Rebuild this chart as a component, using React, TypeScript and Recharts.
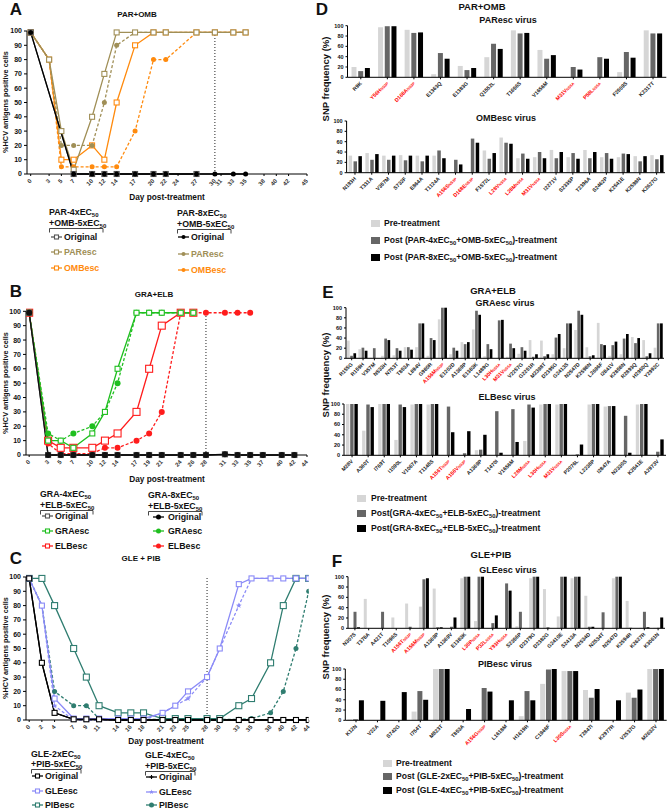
import React from "react";
import { LineChart, Line, XAxis, YAxis, ReferenceLine, BarChart, Bar } from "recharts";

const FONT = "'Liberation Sans', Arial, Helvetica, sans-serif";
const OLIVE = "#a08f57";
const ORANGE = "#ff8a0d";
const GREEN = "#1fbf1f";
const RED = "#ff1c1c";
const LAV = "#8b8bf7";
const TEAL = "#2f7d70";
const GREY = "#555555";
const PRE = "#d6d6d6";
const P4 = "#666666";
const P8 = "#000000";

// ---- A: PAR+OMB time course ----
const daysA = [0, 3, 5, 7, 10, 12, 14, 17, 20, 22, 27, 30, 33, 35];
const ticksA = [0, 3, 5, 7, 10, 12, 14, 17, 20, 22, 24, 27, 30, 31, 33, 35, 38, 40, 42, 45];
const aOrig4 = [99, null, null, 0, 0, 0, 0, 0, 0, 0, 0, null, null, null];
const aOrig8 = [99, null, null, 0, 0, 0, 0, 0, 0, 0, 0, 0, 0, 0];
const aPar4 = [99, 80, 30, 3, 40, 70, 99, 99, 99, 99, 99, 99, 99, 99];
const aPar8 = [99, 80, 20, 20, 20, 50, 90, 99, 99, 99, 99, 99, 99, 99];
const aOmb4 = [99, 80, 10, 10, 20, 10, 50, 90, 99, 99, 99, 99, 99, 99];
const aOmb8 = [99, 80, 5, 5, 5, 5, 5, 30, 80, 80, 99, 99, 99, 99];

// ---- B: GRA+ELB time course ----
const daysB = [0, 3, 5, 7, 10, 12, 14, 17, 19, 21, 24, 26, 28, 31, 33, 35, 37, 40, 42];
const ticksB = [0, 3, 5, 7, 10, 12, 14, 17, 19, 21, 24, 26, 28, 31, 33, 35, 37, 40, 42, 44];
const bOrig4 = [99, 0, 0, 0, 0, 0, 0, 0, 0, 0, 0, 0, 0, 0.5, 0, 0, 0, 0, 0];
const bOrig8 = [99, 0, 0, 0, 0, 0, 0, 0, 0, 0, 0, 0, 0, 0.5, 0, 0, 0, 0, 0];
const bGra4 = [99, 10, 10, 5, 15, 30, 60, 99, 99, 99, 99, 99, null, null, null, null, null, null, null];
const bGra8 = [99, 15, 10, 15, 20, 30, 50, 99, 99, 99, 99, 99, null, null, null, null, null, null, null];
const bElb4 = [99, 10, 5, 5, 5, 10, 15, 30, 60, 90, 99, 99, null, null, null, null, null, null, null];
const bElb8 = [99, 8, 1, 1, 1, 5, 5, 10, 15, 30, 99, 99, 99, 99, 99, 99, null, null, null];

// ---- C: GLE+PIB time course ----
const daysC = [0, 2, 4, 7, 9, 11, 14, 16, 18, 21, 23, 25, 28, 30, 33, 35, 38, 40, 42, 44];
const cOrig2 = [99, 40, 5, 0.5, 0.5, 0.5, 0, 0, 0, 0, 0, 0, 0, 0, 0, 0, 0, 0, 0, 0];
const cOrig4 = [99, 40, 5, 0.5, 0.5, 0.5, 0, 0, 0, 0, 0, 0, 0, 0, 0, 0, 0, 0, 0, 0];
const cGle2 = [99, 80, 15, 1, 1, 1, 1, 1, 1, 5, 10, 20, 30, 50, 95, 99, 99, 99, 99, 99];
const cGle4 = [99, 80, 10, 0, 0, 0, 0, 0, 0, 5, 10, 15, 30, 50, 80, 99, 99, 99, 99, 99];
const cPib2 = [99, 99, 80, 50, 30, 10, 5, 5, 5, 1, 1, 1, 1, 1, 10, 15, 40, 80, 99, 99];
const cPib4 = [99, 80, 20, 10, 10, 1, 0.5, 0.5, 0.5, 0.5, 0.5, 0.5, 0.5, 0.5, 0.5, 1, 5, 20, 50, 90];

// ---- D: PAR+OMB SNPs ----
const dParCats = ["R9K", "Y56H_NS3P", "D168A_NS3P", "E1363Q", "E1383G", "Q1552L", "T1656S", "V1656M", "M31V_NS5A", "P58L_NS5A", "F2509S", "K2317T"];
const dParPre = [20, 97, 92, 6, 22, 39, 91, 53, 0, 0, 10, 91];
const dPar4 = [12, 99, 86, 47, 14, 65, 85, 36, 20, 39, 49, 85];
const dPar8 = [18, 99, 87, 36, 18, 55, 86, 43, 15, 36, 38, 85];
const dOmbCats = ["N193H", "T331A", "V357M", "S732F", "E864A", "T1124A", "A156S_NS3P", "D168E_NS3P", "F1572L", "L28V_NS5A", "L28M_NS5A", "M31V_NS5A", "I2271V", "S2335P", "T2396A", "S2462P", "K2541E", "K2598N", "K2627G"];
const dOmbPre = [33, 38, 33, 34, 33, 33, 0, 0, 43, 68, 28, 30, 44, 30, 44, 30, 30, 32, 34];
const dOmb4 = [22, 25, 25, 24, 22, 43, 25, 66, 27, 58, 37, 40, 28, 38, 28, 38, 37, 22, 26];
const dOmb8 = [32, 36, 33, 33, 33, 28, 16, 58, 38, 56, 27, 28, 40, 27, 40, 27, 36, 32, 34];

// ---- E: GRA+ELB SNPs ----
const eGraCats = ["R155G", "R159H", "V357M", "N533H", "N753T", "T853A", "L894V", "G980R", "A156M_NS3P", "E1202D", "A1369P", "E1383K", "L1489G", "L30H_NS5A", "M31V_NS5A", "V2257G", "G2251R", "M2398T", "D2395G", "G2413S", "N2547D", "K2598N", "L2696F", "I2841V", "K2858N", "R2893Q", "H2950Q", "Y2992C"];
const eGraPre = [35, 18, 1, 5, 6, 22, 22, 5, 77, 8, 32, 57, 4, 0, 3, 9, 36, 35, 8, 20, 56, 22, 70, 5, 8, 42, 36, 21];
const eGra4 = [5, 21, 20, 39, 20, 22, 69, 40, 100, 21, 28, 94, 28, 75, 29, 22, 3, 4, 41, 69, 94, 4, 28, 26, 39, 30, 4, 69];
const eGra8 = [10, 15, 0, 36, 15, 17, 69, 36, 100, 15, 32, 86, 18, 76, 20, 15, 8, 8, 48, 69, 86, 6, 26, 33, 48, 40, 10, 69];
const eElbCats = ["M28V", "A360T", "I769T", "I1090L", "V1067A", "T1148S", "A156T_NS3P", "A156V_NS3P", "A1369P", "T1470I", "V1656M", "L28M_NS5A", "L30H_NS5A", "M31V_NS5A", "P2076L", "L2238P", "I2847A", "N2330S", "K2541E", "A2973V"];
const eElbPre = [100, 48, 100, 30, 99, 99, 0, 0, 10, 0, 0, 28, 99, 99, 1, 99, 95, 0, 99, 0];
const eElb4 = [100, 99, 100, 99, 100, 100, 95, 4, 11, 86, 90, 99, 100, 100, 2, 100, 96, 77, 100, 7];
const eElb8 = [100, 94, 100, 94, 100, 100, 45, 47, 40, 5, 26, 93, 100, 100, 21, 100, 96, 5, 100, 31];

// ---- F: GLE+PIB SNPs ----
const fGleCats = ["N307S", "T378A", "A421T", "T1096S", "A156T_NS3P", "A156M_NS3P", "A1369P", "A1369V", "E1383K", "L30P_NS5A", "P32L_NS5A", "Y93H_NS5A", "S2356P", "D2379G", "D2382G", "G2410E", "S2413A", "N2534D", "N2534T", "N2547D", "K2594R", "K2627R", "K3061N"];
const fGlePre = [0, 57, 0, 21, 48, 42, 77, 0, 97, 14, 0, 0, 4, 97, 76, 23, 97, 63, 0, 97, 53, 1, 1];
const fGle2 = [32, 0, 32, 0, 3, 95, 2, 3, 100, 100, 10, 87, 32, 100, 2, 100, 100, 3, 31, 100, 1, 32, 1];
const fGle4 = [2, 0, 0, 0, 0, 97, 2, 21, 100, 100, 25, 73, 0, 100, 0, 100, 100, 3, 0, 100, 0, 2, 21];
const fPibCats = ["K12N", "V22A", "S742G", "I754T", "M823T", "T853A", "A156G_NS3P", "L1618M", "H1619R", "C1946F", "L30S_NS5A", "T2847I", "K2977R", "V2537G", "M2632V"];
const fPibPre = [2, 0, 0, 17, 100, 0, 0, 0, 8, 71, 96, 59, 0, 54, 100];
const fPib2 = [2, 0, 0, 57, 100, 0, 63, 0, 57, 99, 96, 44, 0, 44, 100];
const fPib4 = [39, 38, 55, 40, 100, 22, 56, 39, 39, 100, 96, 61, 39, 60, 100];

const pctTicks = [0, 10, 20, 30, 40, 50, 60, 70, 80, 90, 100];
const snpTicks = [0, 20, 40, 60, 80, 100];

type Shape = "sq" | "dot" | "star" | "plus";

function mark(shape: Shape, cx: number, cy: number, color: string, s: number, key?: any) {
  if (shape === "sq") {
    return <rect key={key} x={cx - s / 2} y={cy - s / 2} width={s} height={s} fill="#fff" stroke={color} strokeWidth={1.1} />;
  }
  if (shape === "dot") {
    return <circle key={key} cx={cx} cy={cy} r={s / 2} fill={color} />;
  }
  if (shape === "plus") {
    const h = s / 2;
    return <path key={key} d={`M${cx - h},${cy}H${cx + h}M${cx},${cy - h}V${cy + h}`} stroke={color} strokeWidth={1.1} />;
  }
  const pts: string[] = [];
  for (let i = 0; i < 10; i++) {
    const r = i % 2 === 0 ? s / 2 + 0.6 : s / 4;
    const a = (Math.PI / 5) * i - Math.PI / 2;
    pts.push(`${cx + r * Math.cos(a)},${cy + r * Math.sin(a)}`);
  }
  return <polygon key={key} points={pts.join(" ")} fill={color} />;
}

function makeDot(shape: Shape, color: string, s: number) {
  return (p: any) => {
    if (p.cx == null || p.cy == null || p.value == null) return <g key={`e${p.index}`} />;
    return mark(shape, p.cx, p.cy, color, s, `d${p.index}`);
  };
}

function DayTick(props: any) {
  const { x, y, payload } = props;
  const ty = y + 2;
  return (
    <text x={x} y={ty} transform={`rotate(-45 ${x} ${ty})`} textAnchor="end" dominantBaseline="central" fontSize={6} fontWeight={700} fontFamily={FONT} fill="#333">
      {payload.value}
    </text>
  );
}

function SnpTick(props: any) {
  const { x, y, payload } = props;
  const [name, sub] = String(payload.value).split("_");
  const ty = y + 1;
  return (
    <text x={x} y={ty} transform={`rotate(-45 ${x} ${ty})`} textAnchor="end" dominantBaseline="central" fontSize={5.3} fontWeight={700} fontFamily={FONT} fill={sub ? "#ff0000" : "#222"}>
      {name}
      {sub ? <tspan fontSize={3.8} dy={1}>{sub}</tspan> : null}
    </text>
  );
}

type LineSpec = { key: string; color: string; shape: Shape; dashed?: boolean; size: number };

function Course(props: any) {
  const { top, height, mt, mr, yw, xh, domain, ticks, data, lines, refX } = props;
  return (
    <div style={{ position: "absolute", left: 0, top }}>
      <LineChart width={320} height={height} data={data} margin={{ top: mt, right: mr, left: 0, bottom: 0 }}>
        <XAxis dataKey="day" type="number" domain={domain} ticks={ticks} interval={0} allowDataOverflow height={xh} tick={<DayTick />} tickSize={2} stroke="#000" />
        <YAxis domain={[0, 100]} ticks={pctTicks} interval={0} width={yw} tickSize={3} stroke="#000"
          tick={{ fontSize: 7, fontWeight: 700, fill: "#111", fontFamily: FONT }} />
        <ReferenceLine x={refX} stroke="#222" strokeDasharray="1 2" />
        {lines.map((l: LineSpec) => (
          <Line key={l.key} dataKey={l.key} stroke={l.color} strokeWidth={1.3} strokeDasharray={l.dashed ? "3 2" : undefined}
            dot={makeDot(l.shape, l.color, l.size)} activeDot={false} connectNulls isAnimationActive={false} />
        ))}
      </LineChart>
    </div>
  );
}

function Snp(props: any) {
  const { top, mt, mr, yw, xh, cats, pre, p4, p8, barSize, barGap } = props;
  const data = cats.map((name: string, i: number) => ({ name, pre: pre[i], p4: p4[i], p8: p8[i] }));
  return (
    <div style={{ position: "absolute", left: 330, top }}>
      <BarChart width={337} height={100} data={data} margin={{ top: mt, right: mr, left: 0, bottom: 0 }} barGap={barGap}>
        <XAxis dataKey="name" interval={0} height={xh} tick={<SnpTick />} tickSize={2} stroke="#000" />
        <YAxis domain={[0, 100]} ticks={snpTicks} interval={0} width={yw} tickSize={2} stroke="#000"
          tick={{ fontSize: 5.5, fontWeight: 700, fill: "#111", fontFamily: FONT }} />
        <Bar dataKey="pre" fill={PRE} barSize={barSize} isAnimationActive={false} />
        <Bar dataKey="p4" fill={P4} barSize={barSize} isAnimationActive={false} />
        <Bar dataKey="p8" fill={P8} barSize={barSize} isAnimationActive={false} />
      </BarChart>
    </div>
  );
}

function Txt({ x, y, size = 9, color = "#111", align = "left", rotate = false, children }: any) {
  const tx = align === "center" || rotate ? "-50%" : align === "right" ? "-100%" : "0";
  return (
    <div style={{
      position: "absolute", left: x, top: y, transform: `translate(${tx}, -50%)${rotate ? " rotate(-90deg)" : ""}`,
      fontSize: size, fontWeight: 700, color, lineHeight: 1, whiteSpace: "nowrap", fontFamily: FONT,
    }}>
      {children}
    </div>
  );
}

const Sub = ({ children }: any) => (
  <span style={{ fontSize: "0.68em", position: "relative", top: "0.3em" }}>{children}</span>
);

function Glyph({ x, y, color, shape, dashed, s }: any) {
  return (
    <svg style={{ position: "absolute", left: x, top: y - 4 }} width={11} height={8}>
      <line x1={0} x2={11} y1={4} y2={4} stroke={color} strokeWidth={1.3} strokeDasharray={dashed ? "2 1.5" : undefined} />
      {mark(shape, 5.5, 4, color, s)}
    </svg>
  );
}

function Group({ x, t1, t2, yT, yB, bw, rows, gx, tx }: any) {
  return (
    <>
      <Txt x={x} y={yT[0]} size={8.8}>{t1}</Txt>
      <Txt x={x} y={yT[1]} size={8.8}>{t2}</Txt>
      <svg style={{ position: "absolute", left: x, top: yB }} width={bw + 1} height={5}>
        <path d={`M0.5,4.5V0.5H${bw}V4.5`} fill="none" stroke="#333" strokeWidth={0.9} />
      </svg>
      {rows.map((r: any) => (
        <React.Fragment key={r.label}>
          <Glyph x={gx} y={r.y} color={r.color} shape={r.shape} dashed={r.dashed} s={r.s} />
          <Txt x={tx} y={r.y} size={8.8} color={r.tc}>{r.label}</Txt>
        </React.Fragment>
      ))}
    </>
  );
}

function BarLegend({ x, tx, ys, a, b }: any) {
  const rows = [
    { c: PRE, t: <>Pre-treatment</> },
    { c: P4, t: a },
    { c: P8, t: b },
  ];
  return (
    <>
      {rows.map((r, i) => (
        <React.Fragment key={i}>
          <div style={{ position: "absolute", left: x, top: ys[i] - 3.5, width: 9, height: 7, background: r.c }} />
          <Txt x={tx} y={ys[i]} size={8.6}>{r.t}</Txt>
        </React.Fragment>
      ))}
    </>
  );
}

const tableA = daysA.map((day, i) => ({ day, o4: aOrig4[i], o8: aOrig8[i], p4: aPar4[i], p8: aPar8[i], m4: aOmb4[i], m8: aOmb8[i] }));
const tableB = daysB.map((day, i) => ({ day, o4: bOrig4[i], o8: bOrig8[i], g4: bGra4[i], g8: bGra8[i], e4: bElb4[i], e8: bElb8[i] }));
const tableC = daysC.map((day, i) => ({ day, o2: cOrig2[i], o4: cOrig4[i], g2: cGle2[i], g4: cGle4[i], p2: cPib2[i], p4: cPib4[i] }));

const linesA: LineSpec[] = [
  { key: "m8", color: ORANGE, shape: "dot", dashed: true, size: 5 },
  { key: "m4", color: ORANGE, shape: "sq", size: 5 },
  { key: "p8", color: OLIVE, shape: "dot", dashed: true, size: 5 },
  { key: "p4", color: OLIVE, shape: "sq", size: 5 },
  { key: "o4", color: GREY, shape: "sq", size: 5 },
  { key: "o8", color: "#000", shape: "dot", size: 5 },
];
const linesB: LineSpec[] = [
  { key: "e8", color: RED, shape: "dot", dashed: true, size: 6 },
  { key: "e4", color: RED, shape: "sq", size: 7 },
  { key: "g8", color: GREEN, shape: "dot", dashed: true, size: 6 },
  { key: "g4", color: GREEN, shape: "sq", size: 5 },
  { key: "o4", color: GREY, shape: "sq", size: 5 },
  { key: "o8", color: "#111", shape: "dot", size: 6 },
];
const linesC: LineSpec[] = [
  { key: "p4", color: TEAL, shape: "dot", dashed: true, size: 5 },
  { key: "p2", color: TEAL, shape: "sq", size: 6 },
  { key: "g4", color: LAV, shape: "star", dashed: true, size: 5 },
  { key: "g2", color: LAV, shape: "sq", size: 5 },
  { key: "o4", color: "#000", shape: "plus", size: 4 },
  { key: "o2", color: "#000", shape: "sq", size: 5 },
];

const ylab = "%HCV antigens positive cells";

export default function App() {
  return (
    <div style={{ position: "absolute", left: 0, top: 0, width: 667, height: 809, background: "#fff", overflow: "hidden", fontFamily: FONT }}>
      <style>{`svg { overflow: visible; }`}</style>
      {/* panel letters */}
      <Txt x={16} y={9} size={17} align="center">A</Txt>
      <Txt x={16} y={291} size={17} align="center">B</Txt>
      <Txt x={16} y={558} size={17} align="center">C</Txt>
      <Txt x={322} y={9} size={17} align="center">D</Txt>
      <Txt x={328} y={292} size={17} align="center">E</Txt>
      <Txt x={337} y={561} size={17} align="center">F</Txt>

      {/* A */}
      <Txt x={137} y={15} size={8} align="center">PAR+OMB</Txt>
      <Txt x={6} y={102} size={7.3} rotate>{ylab}</Txt>
      <Course top={0} height={200} mt={31} mr={13} yw={27} xh={26} domain={[-0.6, 45]} ticks={ticksA} data={tableA} lines={linesA} refX={30} />
      <Txt x={167} y={197} size={8.3} align="center">Day post-treatment</Txt>
      <Group x={49} t1={<>PAR-4xEC<Sub>50</Sub></>} t2={<>+OMB-5xEC<Sub>50</Sub></>} yT={[212, 223]} yB={228} bw={54} gx={51} tx={64}
        rows={[
          { label: "Original", color: GREY, shape: "sq", s: 4, y: 237, tc: "#111" },
          { label: "PAResc", color: OLIVE, shape: "sq", s: 4, y: 252, tc: OLIVE },
          { label: "OMBesc", color: ORANGE, shape: "sq", s: 4, y: 268, tc: ORANGE },
        ]} />
      <Group x={177} t1={<>PAR-8xEC<Sub>50</Sub></>} t2={<>+OMB-5xEC<Sub>50</Sub></>} yT={[213, 224]} yB={229} bw={54} gx={178} tx={191}
        rows={[
          { label: "Original", color: "#000", shape: "dot", s: 4, y: 237, tc: "#111" },
          { label: "PAResc", color: OLIVE, shape: "dot", s: 4, y: 254, tc: OLIVE },
          { label: "OMBesc", color: ORANGE, shape: "dot", s: 4, y: 270, tc: ORANGE },
        ]} />

      {/* B */}
      <Txt x={154} y={295} size={8} align="center">GRA+ELB</Txt>
      <Txt x={6} y={383} size={7.3} rotate>{ylab}</Txt>
      <Course top={280} height={200} mt={31.3} mr={13} yw={26} xh={25} domain={[-0.5, 44]} ticks={ticksB} data={tableB} lines={linesB} refX={28} />
      <Txt x={167} y={479} size={8.3} align="center">Day post-treatment</Txt>
      <Group x={40} t1={<>GRA-4xEC<Sub>50</Sub></>} t2={<>+ELB-5xEC<Sub>50</Sub></>} yT={[494, 505]} yB={510} bw={53} gx={42} tx={55}
        rows={[
          { label: "Original", color: GREY, shape: "sq", s: 4, y: 516, tc: "#111" },
          { label: "GRAesc", color: GREEN, shape: "sq", s: 4, y: 531, tc: "#111" },
          { label: "ELBesc", color: RED, shape: "sq", s: 4, y: 546, tc: "#111" },
        ]} />
      <Group x={148} t1={<>GRA-8xEC<Sub>50</Sub></>} t2={<>+ELB-5xEC<Sub>50</Sub></>} yT={[495, 506]} yB={511} bw={54} gx={153} tx={168}
        rows={[
          { label: "Original", color: "#000", shape: "dot", s: 5, y: 517, tc: "#111" },
          { label: "GRAesc", color: GREEN, shape: "dot", s: 5, y: 531, tc: "#111" },
          { label: "ELBesc", color: RED, shape: "dot", s: 5, y: 546, tc: "#111" },
        ]} />

      {/* C */}
      <Txt x={141} y={559} size={8} align="center">GLE + PIB</Txt>
      <Txt x={6} y={648} size={7.3} rotate>{ylab}</Txt>
      <Course top={540} height={206} mt={37} mr={11.3} yw={26} xh={26} domain={[-0.5, 44]} ticks={daysC} data={tableC} lines={linesC} refX={28} />
      <Txt x={166} y={741} size={8.3} align="center">Day post-treatment</Txt>
      <Group x={31} t1={<>GLE-2xEC<Sub>50</Sub></>} t2={<>+PIB-5xEC<Sub>50</Sub></>} yT={[754, 764]} yB={769} bw={50} gx={32} tx={45}
        rows={[
          { label: "Original", color: "#000", shape: "sq", s: 4, y: 776, tc: "#111" },
          { label: "GLEesc", color: LAV, shape: "sq", s: 4, y: 791, tc: "#111" },
          { label: "PIBesc", color: TEAL, shape: "sq", s: 4, y: 805, tc: "#111" },
        ]} />
      <Group x={145} t1={<>GLE-4xEC<Sub>50</Sub></>} t2={<>+PIB-5xEC<Sub>50</Sub></>} yT={[755, 766]} yB={771} bw={50} gx={146} tx={159}
        rows={[
          { label: "Original", color: "#000", shape: "plus", s: 4, y: 777, tc: "#111" },
          { label: "GLEesc", color: LAV, shape: "star", s: 4, y: 792, tc: "#111" },
          { label: "PIBesc", color: TEAL, shape: "dot", s: 5, y: 805, tc: "#111" },
        ]} />

      {/* D */}
      <Txt x={482} y={7} size={9.5} align="center">PAR+OMB</Txt>
      <Txt x={508} y={20} size={9} align="center">PAResc virus</Txt>
      <Txt x={326} y={79} size={9.5} rotate>SNP frequency (%)</Txt>
      <Snp top={0} mt={25.7} mr={0.7} yw={17.5} xh={22.7} cats={dParCats} pre={dParPre} p4={dPar4} p8={dPar8} barSize={5} barGap={1.7} />
      <Txt x={506} y={118} size={9} align="center">OMBesc virus</Txt>
      <Snp top={100} mt={21} mr={2} yw={16.6} xh={27.3} cats={dOmbCats} pre={dOmbPre} p4={dOmb4} p8={dOmb8} barSize={3.5} barGap={1.4} />
      <BarLegend x={371} tx={384} ys={[223, 240, 257]}
        a={<>Post (PAR-4xEC<Sub>50</Sub>+OMB-5xEC<Sub>50</Sub>)-treatment</>}
        b={<>Post (PAR-8xEC<Sub>50</Sub>+OMB-5xEC<Sub>50</Sub>)-treatment</>} />

      {/* E */}
      <Txt x={493} y={291} size={9.5} align="center">GRA+ELB</Txt>
      <Txt x={505} y={303} size={9} align="center">GRAesc virus</Txt>
      <Txt x={326} y={375} size={9.5} rotate>SNP frequency (%)</Txt>
      <Snp top={280} mt={27.7} mr={3} yw={16} xh={21.7} cats={eGraCats} pre={eGraPre} p4={eGra4} p8={eGra8} barSize={2.7} barGap={0.5} />
      <Txt x={507} y={397} size={9} align="center">ELBesc virus</Txt>
      <Snp top={380} mt={24} mr={1} yw={14} xh={24.7} cats={eElbCats} pre={eElbPre} p4={eElb4} p8={eElb8} barSize={3.4} barGap={0.8} />
      <BarLegend x={357} tx={371} ys={[498, 513, 528]}
        a={<>Post(GRA-4xEC<Sub>50</Sub>+ELB-5xEC<Sub>50</Sub>)-treatment</>}
        b={<>Post(GRA-8xEC<Sub>50</Sub>+ELB-5xEC<Sub>50</Sub>)-treatment</>} />

      {/* F */}
      <Txt x={491} y={555} size={9.5} align="center">GLE+PIB</Txt>
      <Txt x={508} y={570} size={9} align="center">GLEesc virus</Txt>
      <Txt x={326} y={637} size={9.5} rotate>SNP frequency (%)</Txt>
      <Snp top={550} mt={26.7} mr={2} yw={18} xh={21.7} cats={fGleCats} pre={fGlePre} p4={fGle2} p8={fGle4} barSize={3} barGap={0.5} />
      <Txt x={505} y={664} size={9} align="center">PIBesc virus</Txt>
      <Snp top={645} mt={24} mr={0.3} yw={15.3} xh={24.7} cats={fPibCats} pre={fPibPre} p4={fPib2} p8={fPib4} barSize={5} barGap={0.8} />
      <BarLegend x={383} tx={396} ys={[763, 776, 790]}
        a={<>Post (GLE-2xEC<Sub>50</Sub>+PIB-5xEC<Sub>50</Sub>)-treatment</>}
        b={<>Post (GLE-4xEC<Sub>50</Sub>+PIB-5xEC<Sub>50</Sub>)-treatment</>} />
    </div>
  );
}
